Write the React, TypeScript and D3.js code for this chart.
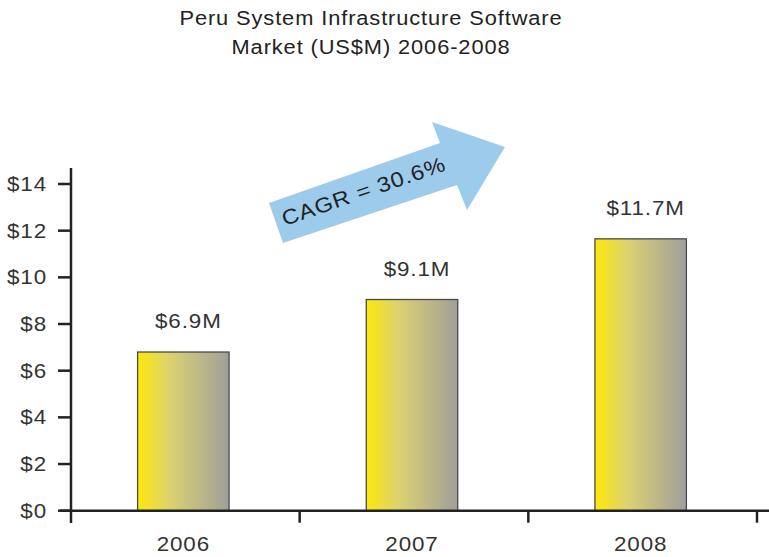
import React from "react";
import * as d3 from "d3";

const categories = ["2006", "2007", "2008"];
const values = [6.8, 9.05, 11.65];
const valueLabels = ["$6.9M", "$9.1M", "$11.7M"];
const yTicks = [0, 2, 4, 6, 8, 10, 12, 14];
const titleLines = ["Peru System Infrastructure Software", "Market (US$M) 2006-2008"];
const cagrText = "CAGR = 30.6%";

const W = 769;
const H = 557;
const FONT = "'Liberation Sans', Arial, Helvetica, sans-serif";
const TXT = "#333";
const LS = 0.8;
const SX = 1.12;

function T(props: { x: number; y: number; size: number; anchor?: string; rotate?: number; fill?: string; children: React.ReactNode }) {
  const { x, y, size, anchor = "middle", rotate = 0, fill = TXT, children } = props;
  return (
    <text
      transform={`translate(${x},${y}) rotate(${rotate}) scale(${SX},1)`}
      textAnchor={anchor}
      fontSize={size}
      letterSpacing={LS}
      fill={fill}
    >
      {children}
    </text>
  );
}

export default function App() {
  const x = d3.scaleBand<string>().domain(categories).range([71, 757]).paddingInner(0).paddingOuter(0);
  const y = d3.scaleLinear().domain([0, 14]).range([510.7, 184]);
  const barW = x.bandwidth() * 0.4;

  const arrow = [
    [269, 203], [440, 143], [432, 122], [505, 147], [467, 210], [457, 185], [283, 243],
  ];
  const arrowPath = d3.line()(arrow as [number, number][]) + "Z";

  return (
    <svg width={W} height={H} style={{ position: "absolute", left: 0, top: 0 }} fontFamily={FONT}>
      <defs>
        <linearGradient id="barGrad" x1="0" y1="0" x2="1" y2="0">
          <stop offset="0" stopColor="#fde80a" />
          <stop offset="0.35" stopColor="#dcd270" />
          <stop offset="1" stopColor="#9f9f9b" />
        </linearGradient>
      </defs>
      <rect width={W} height={H} fill="#fff" />
      {titleLines.map((t, i) => (
        <T key={t} x={371} y={25 + i * 29} size={19.5} fill="#222">{t}</T>
      ))}

      {categories.map((c, i) => {
        const cx = x(c)! + x.bandwidth() / 2 - 2;
        return (
          <g key={c}>
            <rect x={cx - barW / 2} y={y(values[i])} width={barW} height={y(0) - y(values[i])}
              fill="url(#barGrad)" stroke="#4a4a4a" strokeWidth={1.3} />
            <T x={cx + 5} y={y(values[i]) - 24} size={20}>{valueLabels[i]}</T>
            <T x={cx} y={551} size={20}>{c}</T>
          </g>
        );
      })}

      {/* y axis */}
      <line x1={71} x2={71} y1={168} y2={523} stroke="#222" strokeWidth={2.5} />
      {yTicks.map((t) => (
        <g key={t}>
          <line x1={58} x2={71} y1={y(t)} y2={y(t)} stroke="#222" strokeWidth={2.5} />
          <T x={47} y={y(t) + 7} size={20} anchor="end">{`$${t}`}</T>
        </g>
      ))}
      {/* x axis */}
      <line x1={60} x2={769} y1={y(0)} y2={y(0)} stroke="#222" strokeWidth={2.5} />
      {categories.map((c) => (
        <line key={c} x1={x(c)! + x.bandwidth()} x2={x(c)! + x.bandwidth()} y1={y(0)} y2={y(0) + 12} stroke="#222" strokeWidth={2.5} />
      ))}

      {/* CAGR arrow */}
      <path d={arrowPath} fill="#9ccbeb" />
      <T x={366} y={198} size={21} rotate={-19} fill="#222">{cagrText}</T>
    </svg>
  );
}
